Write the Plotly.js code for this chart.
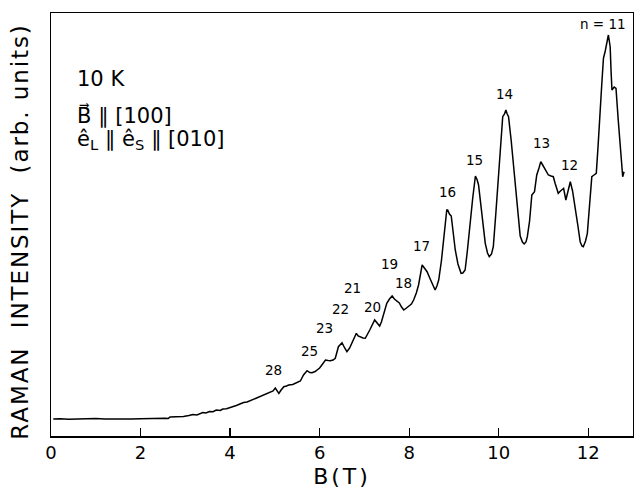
<!DOCTYPE html>
<html>
<head>
<meta charset="utf-8">
<script src="https://cdn.plot.ly/plotly-3.0.1.min.js"></script>
<style>html,body{margin:0;padding:0;background:#fff;}#chart{width:634px;height:492px;}</style>
</head>
<body>
<div id="chart"></div>
<script>
// Magnetic field B (T)
const fieldB = [0.05,0.2,0.4,0.6,0.8,1.0,1.2,1.4,1.6,1.8,2.0,2.2,2.4,2.55,
  2.62,2.66,2.8,2.96,3.08,3.17,3.26,3.39,3.46,3.54,3.62,3.69,3.78,3.84,3.92,4.0,4.08,4.14,4.22,4.3,4.38,4.46,
  4.56,4.68,4.78,4.9,4.96,5.01,5.06,5.09,5.14,5.2,5.26,5.31,5.4,5.46,5.52,5.57,5.64,5.72,5.78,5.83,5.9,5.94,6.0,6.05,
  6.13,6.19,6.24,6.3,6.35,6.42,6.5,6.56,6.61,6.67,6.72,6.82,6.86,6.91,6.97,7.02,7.08,7.12,7.23,7.28,7.34,7.38,7.43,
  7.5,7.56,7.62,7.67,7.73,7.78,7.83,7.88,7.94,7.99,8.05,8.1,8.16,8.21,8.26,8.29,8.34,8.4,8.46,8.51,8.55,8.58,8.62,
  8.66,8.72,8.77,8.81,8.84,8.86,8.9,8.94,8.98,9.03,9.09,9.16,9.2,9.25,9.3,9.36,9.42,9.48,9.52,9.55,9.62,9.7,9.75,
  9.79,9.84,9.88,9.94,10.0,10.05,10.09,10.13,10.16,10.19,10.22,10.28,10.37,10.43,10.48,10.53,10.57,10.61,10.64,
  10.69,10.74,10.8,10.85,10.9,10.94,10.97,11.0,11.05,11.11,11.17,11.22,11.26,11.3,11.33,11.38,11.45,11.5,11.55,
  11.6,11.65,11.71,11.77,11.82,11.86,11.89,11.94,11.98,12.03,12.08,12.13,12.18,12.22,12.25,12.3,12.34,12.38,12.45,
  12.49,12.51,12.53,12.58,12.62,12.67,12.72,12.75,12.77,12.8];
// Raman intensity (arb. units)
const intensity = [17,17.3,16.8,17.2,16.9,17.4,17,16.8,17.3,17,17.2,17.6,17.4,17.8,
  17.6,19,19.2,19.5,20.5,21.5,21,23.5,23,24.5,24.3,26,25.5,27,27.3,28.5,29,30.5,32,33.5,34,35.5,
  37.5,40,41.5,44.3,45,48,45,42.7,46,49.3,50,51,51.5,52.7,53.5,55,61,65.3,63.5,63.3,64.5,66,68,71,
  76,75.5,75.3,76,77.7,89.3,93.3,88,84.3,88,92.7,102.7,100,98.7,98,97.7,102,106,116,113,110,114,121,
  132.7,137,140,137,134.3,133,129,126,128,130,132,136,143,151,163,171,168,164.3,158,152.7,148,146,150,
  156,175,196,215,226,226,222,220,205,186,172,162.7,163,166,185,212.7,238,260,256,251,225,192.7,183,
  179.3,182,189.3,225,262.7,295,319.3,322,326,322,319.3,295,250,220,200,194,192,194,199.3,
  215,241,244.3,261,268,274.3,272,269.3,265,261,260,259.3,252.7,247,242.7,245,247.7,236,245,
  254.3,245,229.3,210,194.3,190,189.3,195,202.7,230,259.3,261,262.7,290,316,350,377.7,385,401,
  389.3,365,346,349,347.7,316,285,264.3,259.3,264.3];
// Landau level index labels
const levelLabels = ['n = 11','14','15','13','12','16','17','19','18','21','20','22','23','25','28'];
const labelB = [12.32,10.12,9.46,10.95,11.59,8.85,8.28,7.56,7.87,6.74,7.19,6.46,6.10,5.77,4.98];
const labelI = [411.7,342,276,292.7,271,244.3,190.3,171.7,152.7,147.7,129.3,127,107.7,85,66];
// Conditions text
const conditionLines = ['10 K','B\u20D7 \u2225 [100]','\u00EA<sub>L</sub> \u2225 \u00EA<sub>S</sub> \u2225 [010]'];
const conditionY = [0.844,0.758,0.700];
const xTicks = [0,2,4,6,8,10,12];

const FONT = 'DejaVu Sans, Arial, sans-serif';
const annotations = levelLabels.map((t,i)=>({
  text:t, x:labelB[i], y:labelI[i], xref:'x', yref:'y', showarrow:false,
  xanchor:'center', yanchor:'middle', font:{family:FONT,size:13.5,color:'#000'}
}));
conditionLines.forEach((t,i)=>annotations.push({
  text:t, x:0.041, y:conditionY[i], xref:'paper', yref:'paper', showarrow:false,
  xanchor:'left', yanchor:'middle', font:{family:FONT,size:21,color:'#000'}
}));

const trace = {x:fieldB, y:intensity, type:'scatter', mode:'lines',
  line:{color:'#000', width:1.5}, hoverinfo:'skip'};

const layout = {
  width:634, height:492,
  margin:{l:51, r:1, t:13, b:56},
  paper_bgcolor:'#fff', plot_bgcolor:'#fff',
  showlegend:false,
  font:{family:FONT, color:'#000'},
  xaxis:{range:[0,13], tickvals:xTicks, ticktext:xTicks.map(String), ticks:'inside', ticklen:8,
    tickwidth:1.3, tickcolor:'#000', showgrid:false, zeroline:false, showline:true, linecolor:'#000',
    linewidth:1.5, mirror:true, tickfont:{family:FONT,size:18,color:'#000'},
    title:{text:'B(T)', font:{family:FONT,size:22,color:'#000'}, standoff:6}},
  yaxis:{range:[0,423], showticklabels:false, ticks:'', showgrid:false, zeroline:false, showline:true,
    linecolor:'#000', linewidth:1.5, mirror:true,
    title:{text:'RAMAN  INTENSITY  (arb. units)', font:{family:FONT,size:23,color:'#000'}, standoff:14}},
  annotations:annotations
};
Plotly.newPlot('chart',[trace],layout,{staticPlot:true, displayModeBar:false}).then(gd=>{
  const yt = gd.querySelector('.ytitle');
  if (yt) {
    yt.setAttribute('letter-spacing','1.9px');
    const tr = yt.getAttribute('transform') || '';
    yt.setAttribute('transform','translate(0,7) ' + tr);
  }
  const xt = gd.querySelector('.xtitle');
  if (xt) xt.setAttribute('letter-spacing','3px');
});
</script>
</body>
</html>
